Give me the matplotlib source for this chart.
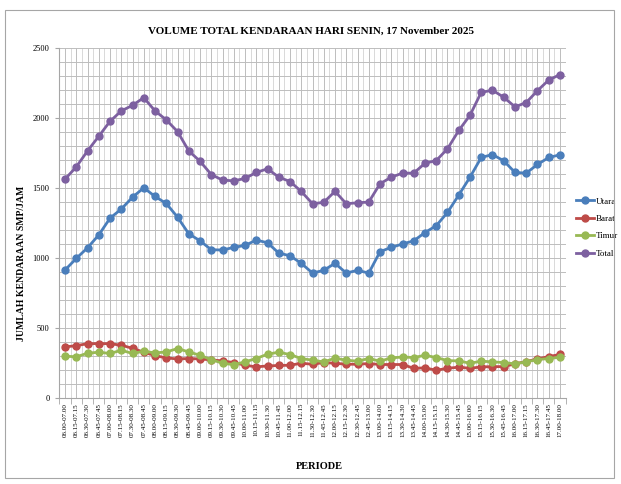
import numpy as np
import matplotlib
matplotlib.use("Agg")
import matplotlib.pyplot as plt
from matplotlib.patches import Rectangle

# periode labels (as written on the original chart)
periods = ["06.00-07.00", "06.15-07.15", "06.30-07.30", "06.45-07.45", "07.00-08.00",
           "07.15-08.15", "07.30-08.30", "07.45-08.45", "08.00-09.00", "08.15-09.15",
           "08.30-09.30", "08.45-09.45", "09.00-10.00", "09.15-10.15", "09.30-10.30",
           "09.45-10.45", "10.00-11.00", "10.15-11.15", "10.30-11.30", "10.45-11.45",
           "11.00-12.00", "11.15-12.15", "11.30-12.30", "11.45-12.45", "12.00-12.15",
           "12.15-12.30", "12.30-12.45", "12.45-13.00", "13.00-14.00", "13.15-14.15",
           "13.30-14.30", "13.45-14.45", "14.00-15.00", "14.15-15.15", "14.30-15.30",
           "14.45-15.45", "15.00-16.00", "15.15-16.15", "15.30-16.30", "15.45-16.45",
           "16.00-17.00", "16.15-17.15", "16.30-17.30", "16.45-17.45", "17.00-18.00"]

utara = [912, 995, 1071, 1163, 1283, 1348, 1433, 1500, 1438, 1388,
         1290, 1171, 1121, 1057, 1055, 1074, 1088, 1126, 1107, 1033,
         1014, 960, 890, 910, 960, 890, 910, 890, 1043, 1074,
         1098, 1121, 1180, 1229, 1324, 1448, 1576, 1717, 1738, 1693,
         1610, 1605, 1667, 1717, 1736]
barat = [362, 371, 385, 386, 385, 374, 352, 324, 300, 283,
         276, 279, 276, 269, 262, 250, 231, 219, 226, 229,
         231, 245, 238, 250, 245, 238, 238, 243, 236, 236,
         236, 209, 212, 195, 209, 217, 209, 219, 221, 221,
         241, 257, 276, 293, 308]
timur = [296, 291, 317, 324, 315, 338, 315, 331, 319, 326,
         350, 326, 302, 271, 245, 235, 255, 279, 310, 324,
         307, 279, 267, 255, 281, 267, 260, 279, 260, 283,
         290, 286, 302, 286, 264, 262, 245, 260, 255, 250,
         241, 255, 271, 279, 288]
total = [1562, 1650, 1764, 1869, 1976, 2050, 2090, 2145, 2050, 1986,
         1902, 1764, 1690, 1595, 1555, 1550, 1567, 1610, 1636, 1576,
         1545, 1474, 1386, 1396, 1475, 1386, 1393, 1398, 1529, 1576,
         1605, 1605, 1676, 1695, 1779, 1910, 2019, 2183, 2198, 2148,
         2079, 2110, 2195, 2271, 2310]

series = [("Utara", utara, "#4A7EBB"),
          ("Barat", barat, "#BE4B48"),
          ("Timur", timur, "#98B954"),
          ("Total", total, "#7D60A0")]

plt.rcParams["font.family"] = ["Liberation Serif", "DejaVu Serif"]

fig = plt.figure(figsize=(6.21, 4.84), dpi=100)
fig.patches.append(Rectangle((5 / 621, 6 / 484), 609 / 621, 468 / 484, transform=fig.transFigure,
                             fill=False, edgecolor="#A6A6A6", linewidth=0.8))
ax = fig.add_axes([0.0957, 0.1787, 0.8151, 0.7221])

x = np.arange(len(periods))
for name, vals, col in series:
    ax.plot(x, vals, color=col, linewidth=2.0, marker="o", markersize=5, label=name)

ax.set_xlim(-0.5, len(periods) - 0.5)
ax.set_ylim(0, 2500)
ax.set_yticks(np.arange(0, 2501, 500))
ax.set_yticks(np.arange(0, 2501, 100), minor=True)
ax.set_xticks(x)
ax.set_xticklabels(periods, rotation=90, fontsize=5)
ax.set_xticks(np.arange(-0.5, len(periods)), minor=True)
ax.tick_params(axis="y", labelsize=6, length=3, color="#A6A6A6", pad=4)
ax.tick_params(axis="y", which="minor", length=0)
ax.tick_params(axis="x", which="major", length=0, pad=4)
ax.tick_params(axis="x", which="minor", length=4, color="#A6A6A6")

ax.grid(True, which="both", axis="y", color="#BDBDBD", linewidth=0.7)
ax.grid(True, which="major", axis="x", color="#BDBDBD", linewidth=0.7)
ax.grid(True, which="minor", axis="x", color="#D9D9D9", linewidth=0.7)
ax.set_axisbelow(True)
for s in ["top", "right"]:
    ax.spines[s].set_visible(False)
ax.spines["left"].set_color("#A6A6A6")
ax.spines["bottom"].set_color("#A6A6A6")

fig.text(0.5, 0.935, "VOLUME TOTAL KENDARAAN HARI SENIN, 17 November 2025",
         ha="center", va="center", fontsize=8, fontweight="bold")
fig.text(0.034, 0.455, "JUMLAH KENDARAAN SMP/JAM", rotation=90,
         ha="center", va="center", fontsize=7, fontweight="bold")
fig.text(0.515, 0.037, "PERIODE", ha="center", va="center", fontsize=7.5, fontweight="bold")

ax.legend(loc="center left", bbox_to_anchor=(0.921, 0.53), bbox_transform=fig.transFigure,
          frameon=False, fontsize=6.5, handlelength=2.0, handletextpad=0.2,
          labelspacing=1.0, borderaxespad=0)

fig.savefig("out.png", dpi=100)
